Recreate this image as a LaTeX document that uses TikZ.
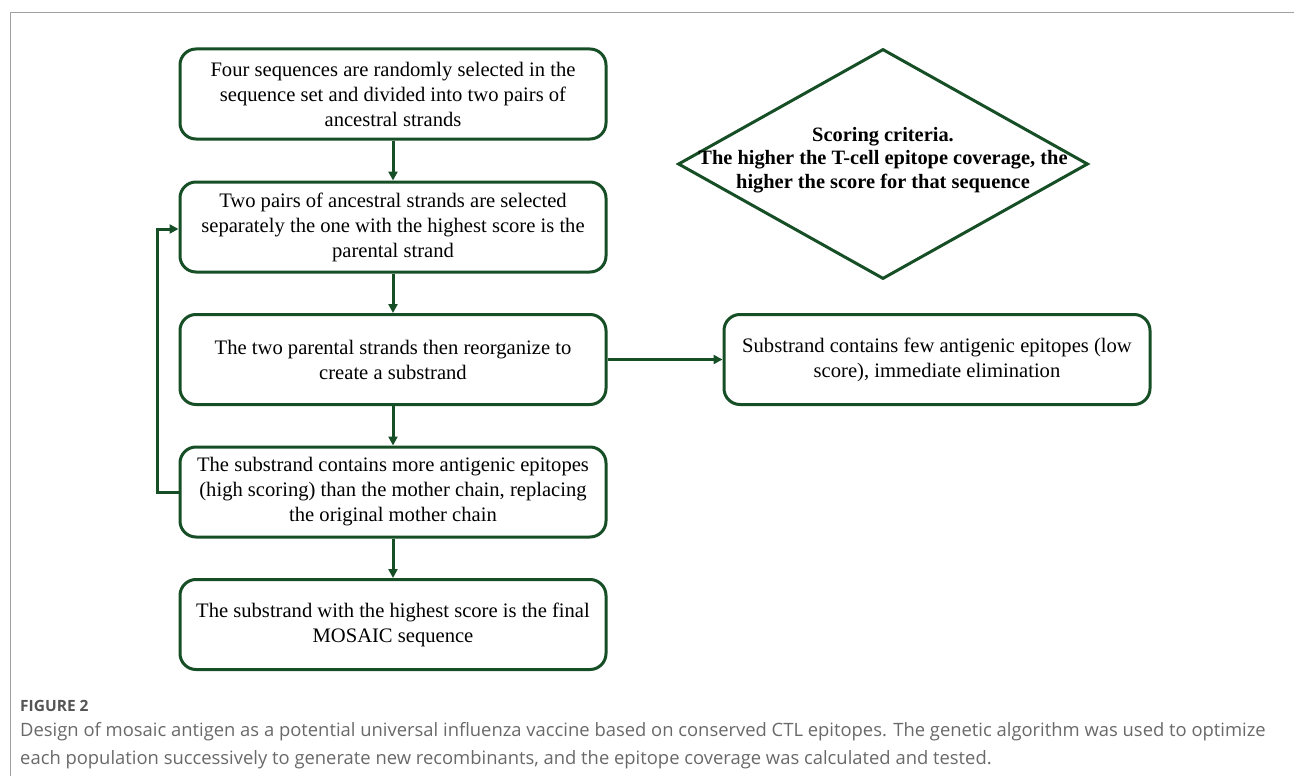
\documentclass[tikz,border=0pt]{standalone}
\usepackage{fontspec}
\setmainfont{Liberation Serif}
\newfontfamily\capfont{Open Sans}
\usetikzlibrary{arrows.meta,shapes.geometric}
\definecolor{dgreen}{RGB}{22,78,38}
\definecolor{framegray}{RGB}{160,160,160}
\definecolor{capgray}{RGB}{105,105,105}
\definecolor{labgray}{RGB}{85,85,85}
\begin{document}
\begin{tikzpicture}[x=1pt,y=-1pt,
  stepbox/.style={draw=dgreen,line width=3pt,rounded corners=16pt,minimum width=426pt,minimum height=90pt,align=center,inner sep=0pt,font=\fontsize{20.6}{25}\selectfont},
  conn/.style={draw=dgreen,line width=3pt,-{Triangle[length=9pt,width=9pt]}},
  captext/.style={anchor=base west,inner sep=0pt,text=capgray,font=\capfont\fontsize{18.4}{22}\selectfont}]
\useasboundingbox (0,0) rectangle (1294,776);
\draw[framegray,line width=1.5pt] (10.5,776) -- (10.5,12.5) -- (1294,12.5);

\node[stepbox] (b1) at (393,94) {Four sequences are randomly selected in the\\ sequence set and divided into two pairs of\\ ancestral strands};
\node[stepbox] (b2) at (393,227) {Two pairs of ancestral strands are selected\\ separately the one with the highest score is the\\ parental strand};
\node[stepbox] (b3) at (393,359.5) {The two parental strands then reorganize to\\ create a substrand};
\node[stepbox] (b4) at (393,492) {The substrand contains more antigenic epitopes\\ (high scoring) than the mother chain, replacing\\ the original mother chain};
\node[stepbox] (b5) at (393,624.5) {The substrand with the highest score is the final\\ MOSAIC sequence};
\node[stepbox] (b6) at (937,359.5) {Substrand contains few antigenic epitopes (low\\ score), immediate elimination};

\node[draw=dgreen,line width=3pt,diamond,minimum width=410pt,minimum height=230pt,inner sep=0pt] (crit) at (883,164) {};
\node[align=center,inner sep=0pt,font=\bfseries\fontsize{20.4}{23.5}\selectfont] (crittext) at (883,160) {Scoring criteria.\\ The higher the T-cell epitope coverage, the\\ higher the score for that sequence};

\draw[conn] (b1) -- (b2);
\draw[conn] (b2) -- (b3);
\draw[conn] (b3) -- (b4);
\draw[conn] (b4) -- (b5);
\draw[conn] (b3) -- (b6);
\coordinate (lb) at (157,492);
\coordinate (lt) at (157,229);
\draw[conn] (b4.west |- lb) -- (lb) -- (lt) -- (b2.west |- lt);

\node[captext,text=labgray] (figlabel) at (20,711) {\bfseries\fontsize{15.5}{18}\selectfont FIGURE 2};
\node[captext] (cap1) at (20,736) {Design of mosaic antigen as a potential universal influenza vaccine based on conserved CTL epitopes. The genetic algorithm was used to optimize};
\node[captext] (cap2) at (20,764) {each population successively to generate new recombinants, and the epitope coverage was calculated and tested.};
\end{tikzpicture}
\end{document}
